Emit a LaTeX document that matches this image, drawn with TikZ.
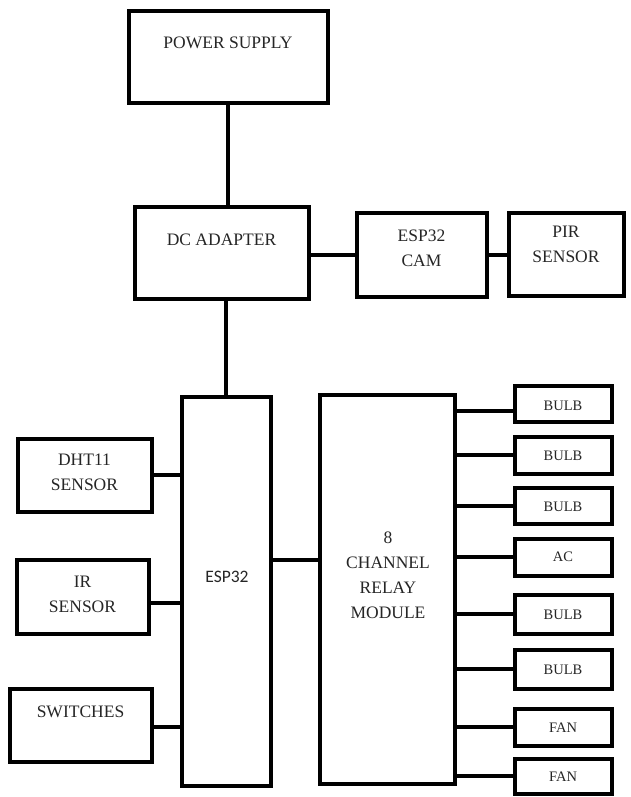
\documentclass[tikz,border=0pt]{standalone}
\usepackage{fontspec}
\setmainfont{Liberation Serif}
\newfontfamily\espfont{Carlito}
\begin{document}
\begin{tikzpicture}[x=1pt,y=-1pt,
  blk/.style={draw=black, line width=4pt, inner sep=0pt, fill=white},
  big/.style={font=\fontsize{17.5}{25}\selectfont, text=black!85, align=center, inner sep=0pt},
  small/.style={font=\fontsize{14.5}{20}\selectfont, text=black!85, align=center, inner sep=0pt},
  wire/.style={line width=4pt, line cap=rect}]
\useasboundingbox (0,0) rectangle (630,797);
% main boxes
\node[blk, minimum width=199pt, minimum height=92pt] (ps) at (228,57.5) {};
\node[blk, minimum width=174pt, minimum height=92pt] (dc) at (221.5,252.5) {};
\node[blk, minimum width=130pt, minimum height=84pt] (cam) at (421.5,254.5) {};
\node[blk, minimum width=115pt, minimum height=83pt] (pir) at (566,254) {};
\node[blk, minimum width=89pt, minimum height=389pt] (esp) at (226,591) {};
\node[blk, minimum width=134pt, minimum height=73pt] (dht) at (84.5,475) {};
\node[blk, minimum width=132pt, minimum height=74pt] (ir) at (82.5,596.5) {};
\node[blk, minimum width=142pt, minimum height=73pt] (sw) at (80.5,725) {};
\node[blk, minimum width=135pt, minimum height=389pt] (relay) at (387,589) {};
% output boxes
\node[blk, minimum width=97pt, minimum height=36pt] (b1) at (563,404) {};
\node[blk, minimum width=97pt, minimum height=37pt] (b2) at (563,455) {};
\node[blk, minimum width=97pt, minimum height=36pt] (b3) at (563,506) {};
\node[blk, minimum width=97pt, minimum height=37pt] (ac) at (563,557) {};
\node[blk, minimum width=97pt, minimum height=39pt] (b5) at (563,614) {};
\node[blk, minimum width=97pt, minimum height=39pt] (b6) at (563,669) {};
\node[blk, minimum width=97pt, minimum height=37pt] (f1) at (563,727) {};
\node[blk, minimum width=97pt, minimum height=35pt] (f2) at (563,776) {};
% texts
\node[big] (tps) at (228,43) {POWER SUPPLY};
\node[big] (tdc) at (221.5,240) {DC ADAPTER};
\node[big] (tcam) at (421.5,248) {ESP32\\CAM};
\node[big] (tpir) at (566,244.5) {PIR\\SENSOR};
\node[big, font=\espfont\fontsize{17.5}{25}\selectfont] (tesp) at (227,577) {ESP32};
\node[big] (tdht) at (84.5,472.5) {DHT11\\SENSOR};
\node[big] (tir) at (82.5,594) {IR\\SENSOR};
\node[big] (tsw) at (80.5,712) {SWITCHES};
\node[big] (trelay) at (388,575) {8\\CHANNEL\\RELAY\\MODULE};
\node[small] (tb1) at (563,406) {BULB};
\node[small] (tb2) at (563,456) {BULB};
\node[small] (tb3) at (563,507) {BULB};
\node[small] (tac) at (563,557) {AC};
\node[small] (tb5) at (563,615) {BULB};
\node[small] (tb6) at (563,670) {BULB};
\node[small] (tf1) at (563,728) {FAN};
\node[small] (tf2) at (563,777) {FAN};
% connectors
\draw[wire] (ps.south) -- (ps.south |- dc.north);
\draw[wire] (esp.north) -- (esp.north |- dc.south);
\draw[wire] (dc.east |- cam.west) -- (cam.west);
\draw[wire] (cam.east) -- (cam.east -| pir.west);
\draw[wire] (dht.east) -- (dht.east -| esp.west);
\draw[wire] ([yshift=-6pt]ir.east) -- ([yshift=-6pt]ir.east -| esp.west);
\draw[wire] ([yshift=-2pt]sw.east) -- ([yshift=-2pt]sw.east -| esp.west);
\draw[wire] ([yshift=31pt]esp.east) -- ([yshift=31pt]esp.east -| relay.west);
\draw[wire] ([yshift=-7pt]b1.west) -- ([yshift=-7pt]b1.west -| relay.east);
\foreach \n in {b2,b3,ac,b5,b6,f1,f2}
  \draw[wire] (relay.east |- \n.west) -- (\n.west);
\end{tikzpicture}
\end{document}
